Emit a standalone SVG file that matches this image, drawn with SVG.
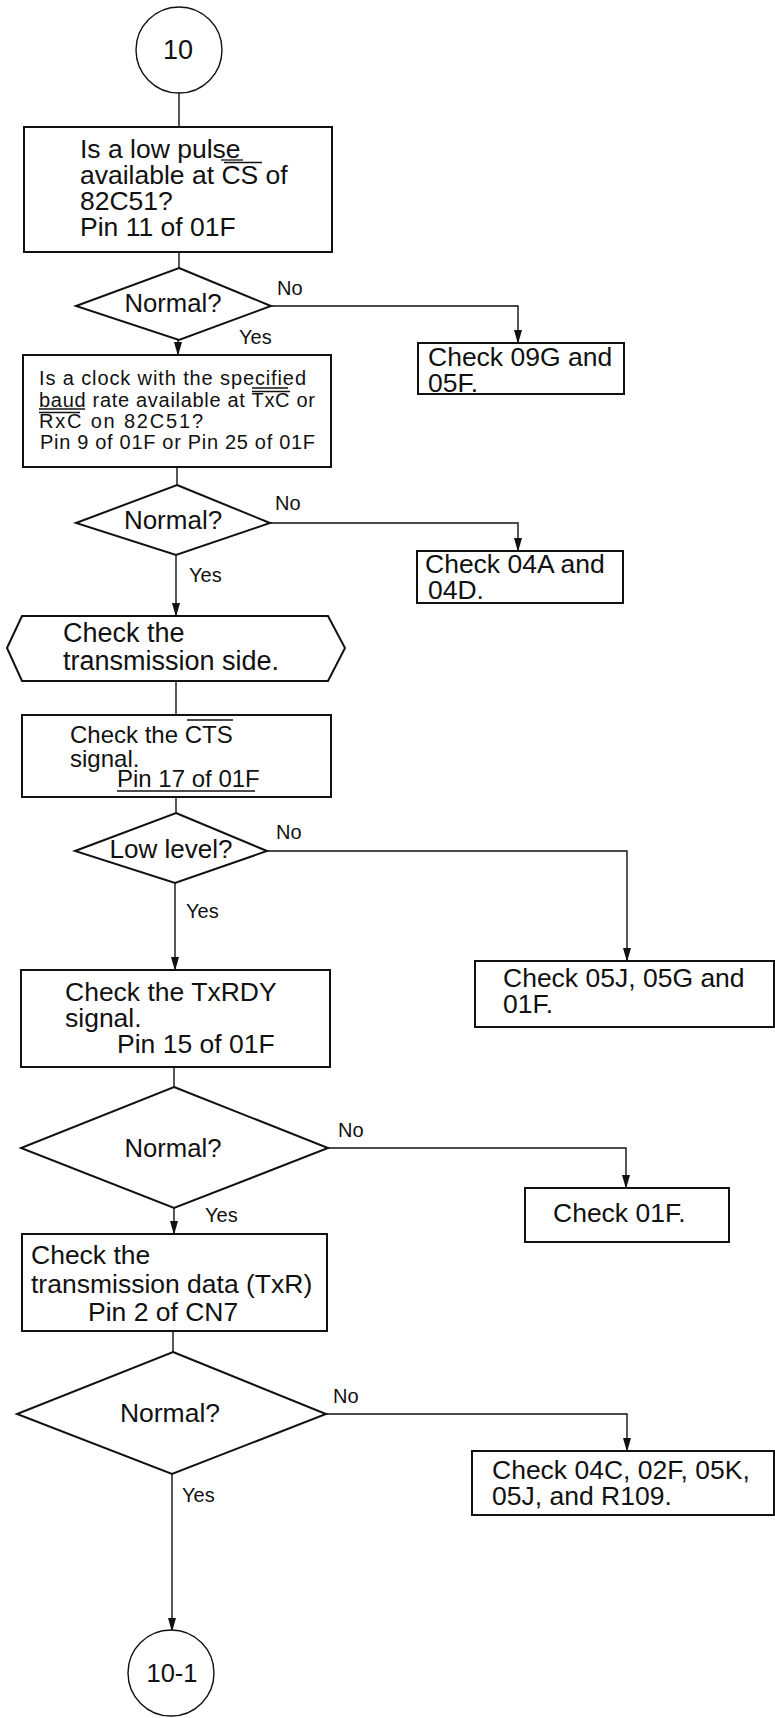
<svg xmlns="http://www.w3.org/2000/svg" width="775" height="1718" viewBox="0 0 775 1718">
<style>
text{font-family:"Liberation Sans",Arial,Helvetica,sans-serif;fill:#111}
.t{font-size:26.5px}
.s{font-size:20px}
.lbl{font-size:20px}
.box{fill:#fff;stroke:#111;stroke-width:2}
.shape{fill:#fff;stroke:#111;stroke-width:2}
.circ{fill:#fff;stroke:#111;stroke-width:1.4}
.con{fill:none;stroke:#111;stroke-width:1.4}
.bar{stroke:#111;stroke-width:1.3}
</style>
<defs>
<marker id="av" markerWidth="8" markerHeight="14" refX="4" refY="13" orient="0" markerUnits="userSpaceOnUse" viewBox="0 0 8 14">
<path d="M0,0 L8,0 L4,14 Z" fill="#111"/>
</marker>
</defs>

<g id="connectors">
<line class="con" x1="179" y1="93" x2="179" y2="127"/>
<line class="con" x1="179" y1="252" x2="179" y2="268"/>
<line class="con" x1="178" y1="340" x2="178" y2="355" marker-end="url(#av)"/>
<line class="con" x1="177" y1="467" x2="177" y2="485"/>
<line class="con" x1="176" y1="555" x2="176" y2="616" marker-end="url(#av)"/>
<line class="con" x1="176" y1="681" x2="176" y2="715"/>
<line class="con" x1="176" y1="797" x2="176" y2="813"/>
<line class="con" x1="175" y1="883" x2="175" y2="970" marker-end="url(#av)"/>
<line class="con" x1="174" y1="1067" x2="174" y2="1087"/>
<line class="con" x1="174" y1="1208" x2="174" y2="1234" marker-end="url(#av)"/>
<line class="con" x1="173" y1="1331" x2="173" y2="1352"/>
<line class="con" x1="172" y1="1474" x2="172" y2="1631" marker-end="url(#av)"/>
<polyline class="con" points="271,306 518,306 518,343" marker-end="url(#av)"/>
<polyline class="con" points="270,523 518,523 518,551" marker-end="url(#av)"/>
<polyline class="con" points="267,851 627,851 627,961" marker-end="url(#av)"/>
<polyline class="con" points="328,1148 626,1148 626,1188" marker-end="url(#av)"/>
<polyline class="con" points="326,1414 627,1414 627,1451" marker-end="url(#av)"/>
<text class="lbl" x="277" y="295">No</text>
<text class="lbl" x="239" y="344">Yes</text>
<text class="lbl" x="275" y="510">No</text>
<text class="lbl" x="189" y="582">Yes</text>
<text class="lbl" x="276" y="839">No</text>
<text class="lbl" x="186" y="918">Yes</text>
<text class="lbl" x="338" y="1137">No</text>
<text class="lbl" x="205" y="1222">Yes</text>
<text class="lbl" x="333" y="1403">No</text>
<text class="lbl" x="182" y="1502">Yes</text>
</g>

<g id="start">
<circle class="circ" cx="179" cy="50" r="43"/>
<text class="t" x="178" y="59" text-anchor="middle" style="font-size:27px">10</text>
</g>

<g id="box1">
<rect class="box" x="24" y="127" width="308" height="125"/>
<text class="t" x="80" y="158">Is a low pulse</text>
<text class="t" x="80" y="184">available at CS of</text>
<text class="t" x="80" y="210">82C51?</text>
<text class="t" x="80" y="236">Pin 11 of 01F</text>
<line class="bar" x1="221" y1="160" x2="243" y2="160"/>
<line class="bar" x1="224" y1="162.5" x2="262" y2="162.5"/>
</g>

<g id="dec1">
<polygon class="shape" points="179,268 271,306 179,340 76,306"/>
<text class="t" x="173" y="312" text-anchor="middle" style="font-size:25.7px">Normal?</text>
</g>

<g id="fail1">
<rect class="box" x="418" y="343" width="206" height="51"/>
<text class="t" x="428" y="366">Check 09G and</text>
<text class="t" x="428" y="392">05F.</text>
</g>

<g id="box2">
<rect class="box" x="23" y="355" width="308" height="112"/>
<text class="s" x="39" y="385" textLength="267" lengthAdjust="spacing">Is a clock with the specified</text>
<text class="s" x="39" y="407" textLength="276" lengthAdjust="spacing">baud rate available at TxC or</text>
<text class="s" x="39" y="428" textLength="164" lengthAdjust="spacing">RxC on 82C51?</text>
<text class="s" x="40" y="449" textLength="275" lengthAdjust="spacing">Pin 9 of 01F or Pin 25 of 01F</text>
<line class="bar" x1="252" y1="388" x2="288" y2="388"/>
<line class="bar" x1="252" y1="391.5" x2="290" y2="391.5"/>
<line class="bar" x1="39" y1="409" x2="85" y2="409"/>
<line class="bar" x1="39" y1="412.5" x2="80" y2="412.5"/>
</g>

<g id="dec2">
<polygon class="shape" points="177,485 270,523 176,555 76,523"/>
<text class="t" x="173" y="529" text-anchor="middle" style="font-size:26px">Normal?</text>
</g>

<g id="fail2">
<rect class="box" x="417" y="551" width="206" height="52"/>
<text class="t" x="425" y="573">Check 04A and</text>
<text class="t" x="428" y="599">04D.</text>
</g>

<g id="prep">
<polygon class="shape" points="7,648 22,616 328,616 345,648 328,681 22,681"/>
<text class="t" x="63" y="642" style="font-size:27px">Check the</text>
<text class="t" x="63" y="670" style="font-size:27px">transmission side.</text>
</g>

<g id="box3">
<rect class="box" x="22" y="715" width="309" height="82"/>
<text class="t" x="70" y="743" style="font-size:24px">Check the CTS</text>
<text class="t" x="70" y="767" style="font-size:24px">signal.</text>
<text class="t" x="117" y="787" style="font-size:24px">Pin 17 of 01F</text>
<line class="bar" x1="187" y1="720" x2="233" y2="720"/>
<line class="bar" x1="117" y1="791" x2="255" y2="791"/>
</g>

<g id="dec3">
<polygon class="shape" points="176,813 267,851 175,883 75,851"/>
<text class="t" x="171" y="858" text-anchor="middle" style="font-size:26px">Low level?</text>
</g>

<g id="fail3">
<rect class="box" x="475" y="961" width="299" height="66"/>
<text class="t" x="503" y="987">Check 05J, 05G and</text>
<text class="t" x="503" y="1013">01F.</text>
</g>

<g id="box4">
<rect class="box" x="21" y="970" width="309" height="97"/>
<text class="t" x="65" y="1001">Check the TxRDY</text>
<text class="t" x="65" y="1027">signal.</text>
<text class="t" x="117" y="1053">Pin 15 of 01F</text>
</g>

<g id="dec4">
<polygon class="shape" points="174,1087 328,1148 174,1208 21,1148"/>
<text class="t" x="173" y="1157" text-anchor="middle" style="font-size:25.7px">Normal?</text>
</g>

<g id="fail4">
<rect class="box" x="525" y="1188" width="204" height="54"/>
<text class="t" x="553" y="1222">Check 01F.</text>
</g>

<g id="box5">
<rect class="box" x="22" y="1234" width="305" height="97"/>
<text class="t" x="31" y="1264">Check the</text>
<text class="t" x="31" y="1293">transmission data (TxR)</text>
<text class="t" x="88" y="1321">Pin 2 of CN7</text>
</g>

<g id="dec5">
<polygon class="shape" points="173,1352 326,1414 172,1474 17,1414"/>
<text class="t" x="170" y="1422" text-anchor="middle" style="font-size:26.5px">Normal?</text>
</g>

<g id="fail5">
<rect class="box" x="472" y="1451" width="302" height="64"/>
<text class="t" x="492" y="1479">Check 04C, 02F, 05K,</text>
<text class="t" x="492" y="1505">05J, and R109.</text>
</g>

<g id="end">
<circle class="circ" cx="171" cy="1673" r="43"/>
<text class="t" x="172" y="1682" text-anchor="middle" style="font-size:25.5px">10-1</text>
</g>
</svg>
